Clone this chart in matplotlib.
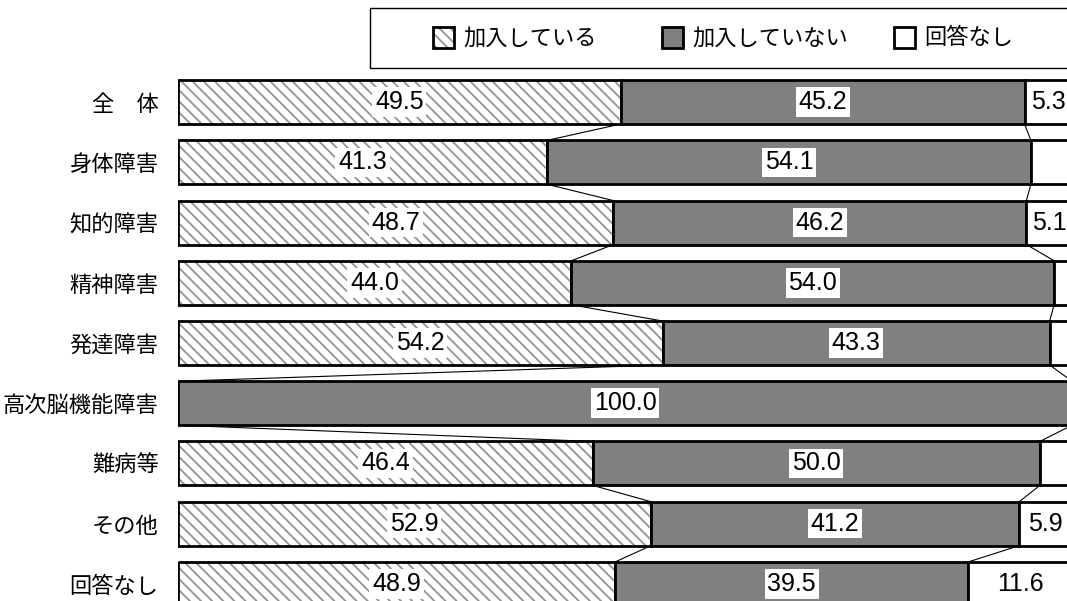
import matplotlib
matplotlib.use('Agg')
import matplotlib.pyplot as plt
from matplotlib.patches import Rectangle

plt.rcParams['font.family'] = ['Noto Sans CJK JP', 'DejaVu Sans']
plt.rcParams['hatch.color'] = '#939393'
plt.rcParams['hatch.linewidth'] = 1.3

categories = ['全　体', '身体障害', '知的障害', '精神障害', '発達障害',
              '高次脳機能障害', '難病等', 'その他', '回答なし']
joined = [49.5, 41.3, 48.7, 44.0, 54.2, 0.0, 46.4, 52.9, 48.9]
not_joined = [45.2, 54.1, 46.2, 54.0, 43.3, 100.0, 50.0, 41.2, 39.5]
no_answer = [5.3, 4.6, 5.1, 2.0, 2.5, 0.0, 3.6, 5.9, 11.6]
series_names = ['加入している', '加入していない', '回答なし']

GRAY = '#808080'
H = 0.73
num_font = ['Liberation Sans', 'DejaVu Sans']

fig = plt.figure(figsize=(10.67, 6.01), dpi=100)
ax = fig.add_axes([178 / 1067, -13 / 601, 894 / 1067, 542 / 601])

y = list(range(len(categories)))

# hatched part: gray hatch first, black outline on top
ax.barh(y, joined, height=H, color='white', edgecolor='#939393',
        hatch='\\\\\\', linewidth=0)
ax.barh(y, joined, height=H, fill=False, edgecolor='black', linewidth=2)
left2 = joined
ax.barh(y, not_joined, left=left2, height=H, color=GRAY,
        edgecolor='black', linewidth=2)
left3 = [a + b for a, b in zip(joined, not_joined)]
ax.barh(y, no_answer, left=left3, height=H, color='white',
        edgecolor='black', linewidth=2)

# connecting lines between neighbouring bars
for i in range(len(categories) - 1):
    for cum in (joined, left3):
        ax.plot([cum[i], cum[i + 1]], [i + H / 2, i + 1 - H / 2],
                color='black', lw=0.8, zorder=1)

# value labels
for i in range(len(categories)):
    lefts = [0, joined[i], left3[i]]
    vals = [joined[i], not_joined[i], no_answer[i]]
    for l, v in zip(lefts, vals):
        if v < 5:
            continue
        ax.text(l + v / 2, i, '%.1f' % v, ha='center', va='center',
                fontsize=18, family=num_font, zorder=5,
                bbox=dict(facecolor='white', edgecolor='none', pad=2))

ax.set_xlim(0, 100)
ax.set_ylim(len(categories) - 0.5, -0.5)
ax.set_yticks(y)
ax.set_yticklabels(categories, fontsize=16)
ax.tick_params(axis='y', length=0, pad=14)
ax.tick_params(axis='x', bottom=False, labelbottom=False)
for s in ax.spines.values():
    s.set_visible(False)

# legend drawn by hand in figure pixels
W, Hh = 1067, 601
def fx(px):
    return px / W
def fy(py):
    return 1 - py / Hh

fig.patches.append(Rectangle((fx(370), fy(68)), fx(800), 60 / Hh,
                             transform=fig.transFigure, fill=False,
                             edgecolor='black', linewidth=1))
handle_x = [433, 662, 894]
styles = [dict(facecolor='white', hatch='\\\\\\'),
          dict(facecolor=GRAY),
          dict(facecolor='white')]
for hx, name, st in zip(handle_x, series_names, styles):
    if 'hatch' in st:
        fig.patches.append(Rectangle((fx(hx), fy(48)), fx(21), 21 / Hh,
                                     transform=fig.transFigure,
                                     facecolor='white', edgecolor='#939393',
                                     hatch=st['hatch'], linewidth=0))
        fig.patches.append(Rectangle((fx(hx), fy(48)), fx(21), 21 / Hh,
                                     transform=fig.transFigure, fill=False,
                                     edgecolor='black', linewidth=2))
    else:
        fig.patches.append(Rectangle((fx(hx), fy(48)), fx(21), 21 / Hh,
                                     transform=fig.transFigure,
                                     facecolor=st['facecolor'],
                                     edgecolor='black', linewidth=2))
    fig.text(fx(hx + 30), fy(38), name, fontsize=16, ha='left', va='center')

fig.savefig('out.png', dpi=100)
